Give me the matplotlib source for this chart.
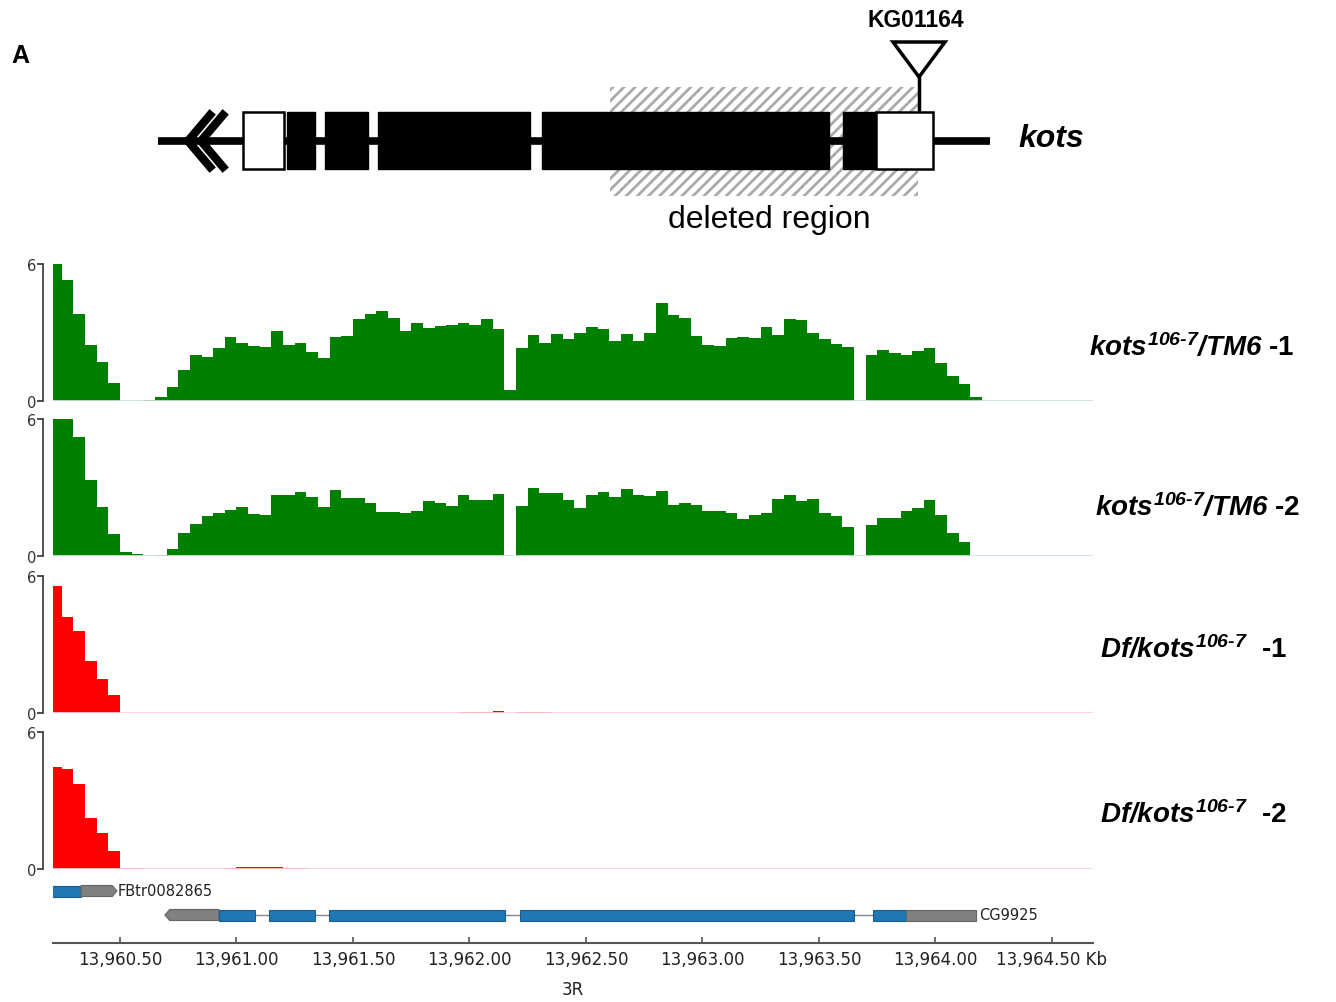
import numpy as np
import matplotlib.pyplot as plt
from matplotlib.patches import Rectangle, Polygon

plt.rcParams['mathtext.fontset'] = 'custom'
plt.rcParams['mathtext.it'] = 'Liberation Sans:italic:bold'
plt.rcParams['mathtext.rm'] = 'Liberation Sans:italic:bold'
plt.rcParams['mathtext.bf'] = 'Liberation Sans:italic:bold'
plt.rcParams['hatch.linewidth'] = 2.0

# coverage bins (kb), 50 bp wide
bin_start = 13960.20
bin_width = 0.05

cov_tm6_1 = [6.3, 5.28, 3.79, 2.47, 1.72, 0.78, 0, 0, 0.04, 0.19,
             0.6, 1.35, 2.0, 1.93, 2.34, 2.8, 2.54, 2.41, 2.35, 3.05,
             2.47, 2.54, 2.15, 1.89, 2.8, 2.85, 3.6, 3.79, 3.94, 3.63,
             3.05, 3.43, 3.21, 3.28, 3.34, 3.43, 3.31, 3.59, 3.14, 0.48,
             2.33, 2.88, 2.56, 2.94, 2.73, 3.0, 3.23, 3.14, 2.62, 2.94,
             2.62, 3.0, 4.3, 3.75, 3.65, 2.85, 2.47, 2.41, 2.76, 2.8,
             2.76, 3.24, 2.9, 3.58, 3.55, 3.0, 2.73, 2.51, 2.35, 0,
             2.03, 2.22, 2.1, 2.0, 2.18, 2.33, 1.67, 1.09, 0.73, 0.19]
cov_tm6_2 = [6.3, 6.3, 5.19, 3.32, 2.14, 0.97, 0.18, 0.07, 0.02, 0.03,
             0.3, 0.99, 1.39, 1.73, 1.9, 2.02, 2.15, 1.86, 1.8, 2.68,
             2.65, 2.8, 2.6, 2.14, 2.9, 2.56, 2.56, 2.34, 1.93, 1.93,
             1.9, 1.98, 2.39, 2.3, 2.2, 2.68, 2.45, 2.45, 2.73, 0,
             2.21, 2.98, 2.74, 2.74, 2.45, 2.12, 2.68, 2.8, 2.57, 2.95,
             2.68, 2.62, 2.86, 2.24, 2.3, 2.24, 1.95, 1.98, 1.9, 1.62,
             1.8, 1.9, 2.51, 2.65, 2.39, 2.51, 1.9, 1.77, 1.28, 0,
             1.36, 1.65, 1.65, 1.99, 2.12, 2.45, 1.8, 0.99, 0.62, 0]
cov_df_1 = [5.56, 4.19, 3.6, 2.28, 1.47, 0.78, 0, 0, 0, 0,
            0, 0, 0, 0, 0, 0, 0, 0, 0, 0,
            0, 0, 0, 0, 0, 0, 0, 0, 0, 0,
            0, 0, 0, 0, 0, 0.04, 0.04, 0.04, 0.07, 0,
            0.03, 0.03, 0.03, 0, 0, 0, 0, 0, 0, 0,
            0, 0, 0, 0, 0, 0, 0, 0, 0, 0,
            0, 0, 0, 0, 0, 0, 0, 0, 0, 0,
            0, 0, 0, 0, 0, 0, 0, 0, 0, 0]
cov_df_2 = [4.45, 4.38, 3.72, 2.23, 1.58, 0.8, 0.03, 0.03, 0, 0,
            0, 0, 0, 0, 0, 0.03, 0.07, 0.07, 0.07, 0.07,
            0.03, 0.03, 0, 0, 0, 0, 0, 0, 0, 0,
            0, 0, 0, 0, 0, 0, 0, 0, 0, 0,
            0, 0, 0, 0, 0, 0, 0, 0, 0, 0,
            0, 0, 0, 0, 0, 0, 0, 0, 0, 0,
            0, 0, 0, 0, 0, 0, 0, 0, 0, 0,
            0, 0, 0, 0, 0, 0, 0, 0, 0, 0]

track_labels = [r'$kots^{106\text{-}7}/TM6$ -1', r'$kots^{106\text{-}7}/TM6$ -2',
                r'$Df/kots^{106\text{-}7}$  -1', r'$Df/kots^{106\text{-}7}$  -2']
track_colors = ['#008000', '#008000', '#ff0000', '#ff0000']
track_base = ['#cfe6d6', '#cfe6d6', '#ffd0d8', '#ffd0d8']

# gene models (kb)
fbtr_cds = [(13960.21, 13960.333)]
fbtr_utr = (13960.333, 13960.487)
cg_utr_left = (13960.693, 13960.925)
cg_cds = [(13960.925, 13961.079), (13961.139, 13961.337), (13961.397, 13962.152),
          (13962.217, 13963.650), (13963.73, 13963.873)]
cg_utr_right = (13963.873, 13964.174)
xticks = [13960.5, 13961.0, 13961.5, 13962.0, 13962.5, 13963.0, 13963.5, 13964.0, 13964.5]
view = (13960.2125, 13964.676)

# schematic of kots (figure pixels)
utr_boxes = [(243, 284), (876, 933)]
cds_boxes = [(287, 315), (325, 368), (378, 530), (542, 829), (843, 876)]
deleted = (610, 918)

W, H = 1336, 1003
fig = plt.figure(figsize=(W / 100, H / 100), dpi=100)


def px_rect(x0, y0, x1, y1):
    return [x0 / W, 1 - y1 / H, (x1 - x0) / W, (y1 - y0) / H]


bg = fig.add_axes([0, 0, 1, 1])
bg.set_xlim(0, W)
bg.set_ylim(H, 0)
bg.axis('off')

bg.add_patch(Rectangle((deleted[0], 88), deleted[1] - deleted[0], 109, facecolor='none',
                       edgecolor='#aaaaaa', hatch='///', lw=0, zorder=1))
bg.plot([158, 990], [142, 142], color='black', lw=5.5, solid_capstyle='butt', zorder=2)
for x0, x1 in cds_boxes:
    bg.add_patch(Rectangle((x0, 113), x1 - x0, 57, facecolor='black', edgecolor='black', lw=1, zorder=3))
for x0, x1 in utr_boxes:
    bg.add_patch(Rectangle((x0, 113), x1 - x0, 57, facecolor='white', edgecolor='black', lw=1.8, zorder=4))
for tip in [188, 201]:
    bg.plot([tip + 22, tip, tip + 22], [116, 142, 168], color='black', lw=6, zorder=3)
bg.plot([919, 919], [78, 113], color='black', lw=2.5, zorder=3)
bg.add_patch(Polygon([(893, 43), (945, 43), (919, 78)], closed=True, facecolor='white',
                     edgecolor='black', lw=2.5, zorder=4))

bg.text(20, 56, 'A', fontsize=18, fontweight='bold', family='Liberation Sans', ha='center', va='center')
bg.text(916, 20, 'KG01164', fontsize=16.5, fontweight='bold', family='Liberation Sans', ha='center', va='center')
bg.text(769, 220, 'deleted region', fontsize=23, family='Liberation Sans', ha='center', va='center')
bg.text(1018, 139, 'kots', fontsize=23, fontweight='bold', fontstyle='italic', family='Liberation Sans',
        ha='left', va='center')

# coverage tracks
rows = [(265, 402), (420, 557), (577, 714), (733, 870)]
label_pos = [(1089, 348), (1095, 508), (1100, 650), (1100, 815)]
covs = [cov_tm6_1, cov_tm6_2, cov_df_1, cov_df_2]
for i in range(4):
    vals = np.array(covs[i])
    edges = bin_start + bin_width * np.arange(len(vals) + 1)
    ax = fig.add_axes(px_rect(53, rows[i][0], 1093, rows[i][1]))
    ax.patch.set_alpha(0)
    ax.axhline(0, color=track_base[i], lw=2)
    ax.stairs(vals, edges, fill=True, color=track_colors[i], lw=0)
    ax.set_xlim(view)
    ax.set_ylim(0, 6)
    for s in ['top', 'right', 'bottom']:
        ax.spines[s].set_visible(False)
    ax.spines['left'].set_position(('outward', 7))
    ax.spines['left'].set_color('#333333')
    ax.spines['left'].set_linewidth(1.2)
    ax.set_xticks([])
    ax.set_yticks([0, 6])
    ax.set_yticklabels(['0', '6'])
    ax.tick_params(axis='y', length=4, width=1.2, color='#333333', labelsize=10.5, labelcolor='#333333', pad=1)
    bg.text(label_pos[i][0], label_pos[i][1], track_labels[i], fontsize=20, fontweight='bold',
            family='Liberation Sans', ha='left', va='center')

# gene annotation + genome axis
gx = fig.add_axes(px_rect(53, 878, 1093, 944))
gx.patch.set_alpha(0)
gx.set_xlim(view)
gx.set_ylim(0, 66)
blue, blue_edge = '#1f77b4', '#1b5e8e'
grey, grey_edge = '#808080', '#666666'
hh = 5.5
tip = 0.02

y = 52
for x0, x1 in fbtr_cds:
    gx.add_patch(Rectangle((x0, y - hh), x1 - x0, 2 * hh, facecolor=blue, edgecolor=blue_edge, lw=0.8, zorder=3))
u0, u1 = fbtr_utr
gx.add_patch(Polygon([(u0, y - hh), (u1 - tip, y - hh), (u1, y), (u1 - tip, y + hh), (u0, y + hh)],
                     facecolor=grey, edgecolor=grey_edge, lw=0.8, zorder=3))
gx.text(u1 + 0.005, y, 'FBtr0082865', fontsize=10.5, ha='left', va='center', color='#222222')

y = 28
gx.plot([cg_utr_left[0], cg_utr_right[1]], [y, y], color='#888888', lw=1, zorder=1)
u0, u1 = cg_utr_left
gx.add_patch(Polygon([(u0, y), (u0 + tip, y - hh), (u1, y - hh), (u1, y + hh), (u0 + tip, y + hh)],
                     facecolor=grey, edgecolor=grey_edge, lw=0.8, zorder=3))
for x0, x1 in cg_cds:
    gx.add_patch(Rectangle((x0, y - hh), x1 - x0, 2 * hh, facecolor=blue, edgecolor=blue_edge, lw=0.8, zorder=3))
u0, u1 = cg_utr_right
gx.add_patch(Rectangle((u0, y - hh), u1 - u0, 2 * hh, facecolor=grey, edgecolor=grey_edge, lw=0.8, zorder=3))
gx.text(u1 + 0.015, y, 'CG9925', fontsize=10.5, ha='left', va='center', color='#222222')

for s in ['top', 'right', 'left']:
    gx.spines[s].set_visible(False)
gx.spines['bottom'].set_color('#555555')
gx.spines['bottom'].set_linewidth(1.5)
gx.set_yticks([])
gx.set_xticks(xticks)
tick_text = [f'{t:,.2f}' for t in xticks]
tick_text[-1] = tick_text[-1] + ' Kb'
gx.set_xticklabels(tick_text)
gx.tick_params(axis='x', direction='in', length=4, width=1.2, color='#555555', labelsize=12,
               labelcolor='#222222', pad=5)
gx.set_xlabel('3R', fontsize=12, color='#222222', labelpad=9)

fig.savefig('out.png', dpi=100)
